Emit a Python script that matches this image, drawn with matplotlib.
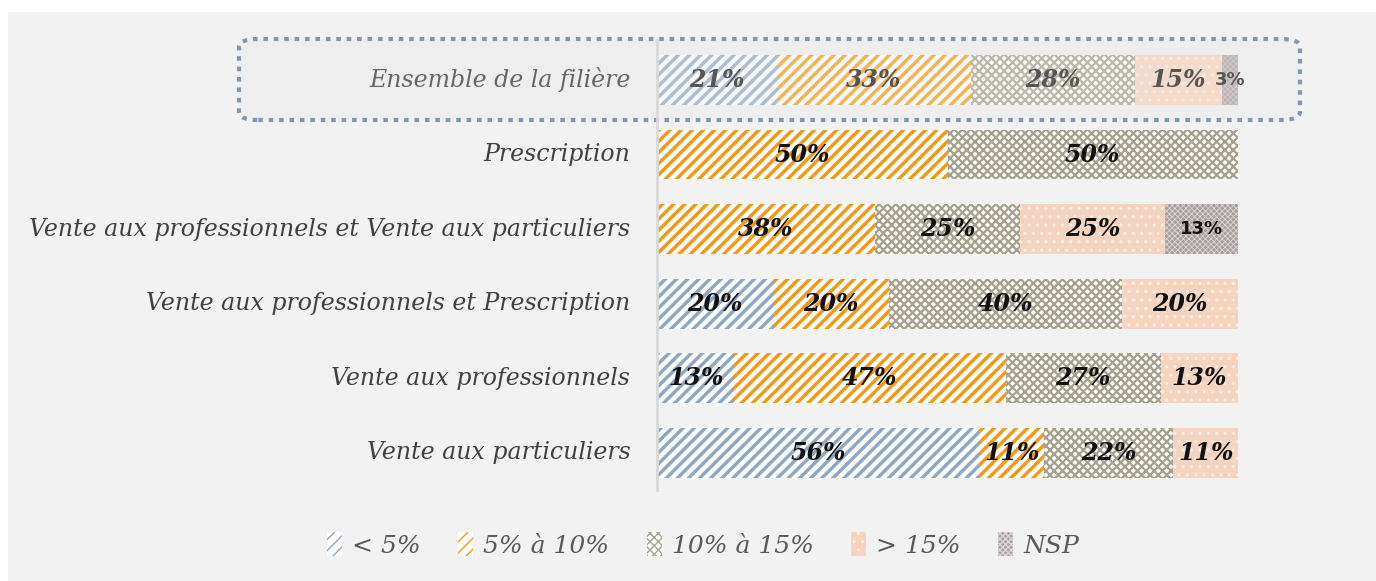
import matplotlib
matplotlib.use("Agg")
import matplotlib.pyplot as plt
from matplotlib.patches import FancyBboxPatch, Rectangle, Patch
import numpy as np

categories = [
    "Ensemble de la filière",
    "Prescription",
    "Vente aux professionnels et Vente aux particuliers",
    "Vente aux professionnels et Prescription",
    "Vente aux professionnels",
    "Vente aux particuliers",
]
series_names = ["< 5%", "5% à 10%", "10% à 15%", "> 15%", "NSP"]
lt5 = [20.6, 0, 0, 20, 13.33, 55.56]
p5_10 = [33.4, 50, 37.5, 20, 46.67, 11.11]
p10_15 = [28.2, 50, 25, 40, 26.67, 22.22]
gt15 = [15.0, 0, 25, 20, 13.33, 11.11]
nsp = [2.8, 0, 12.5, 0, 0, 0]
series = [lt5, p5_10, p10_15, gt15, nsp]

styles = [
    dict(face="#ffffff", edge="#8ea8c3", hatch="///", hlw=2.5),
    dict(face="#ffffff", edge="#f09a1a", hatch="///", hlw=2.5),
    dict(face="#ffffff", edge="#a6a18c", hatch="xxxx", hlw=1.6),
    dict(face="#f4d4bf", edge="#fbece2", hatch="..", hlw=1.2),
    dict(face="#a99e9e", edge="#dcd6d6", hatch="xxxxxx", hlw=0.6),
]

W, H = 1376, 581
fig = plt.figure(figsize=(W / 100, H / 100), dpi=100)
fig.patch.set_facecolor("white")
fig.patches.append(Rectangle((8 / W, 0), 1 - 8 / W, 1 - 12 / H, transform=fig.transFigure,
                             facecolor="#f2f2f2", edgecolor="none", zorder=-10))
# dotted highlight box
fig.patches.append(FancyBboxPatch((239 / W, (H - 120) / H), (1300 - 239) / W, (120 - 39) / H,
                                  boxstyle="round,pad=0,rounding_size=0.014",
                                  transform=fig.transFigure, facecolor="#eeeeee",
                                  edgecolor="#7f98b0", linewidth=3.0, capstyle="butt",
                                  linestyle=(0, (1.1, 1.4)), zorder=-5))

ax = fig.add_axes([657 / W, 1 - 490 / H, (1238 - 657) / W, (490 - 40) / H])
ax.set_facecolor("none")
ax.set_xlim(0, 100)
ax.set_ylim(5.5, -0.536)
for s in ["top", "right", "bottom"]:
    ax.spines[s].set_visible(False)
ax.spines["left"].set_color("#d9d9d9")
ax.spines["left"].set_linewidth(2)
ax.set_xticks([])
ax.set_yticks(range(len(categories)))
ax.set_yticklabels([])
ax.tick_params(axis="y", length=0)

ypos = np.arange(len(categories))
left = np.zeros(len(categories))
serif = "DejaVu Serif"
for si, vals in enumerate(series):
    st = styles[si]
    for i, v in enumerate(vals):
        if v <= 0:
            continue
        with plt.rc_context({"hatch.linewidth": st["hlw"]}):
            ax.barh(ypos[i], v, left=left[i], height=0.67, color=st["face"],
                    edgecolor=st["edge"], hatch=st["hatch"], linewidth=0,
                    alpha=0.72 if i == 0 else 1.0)
        col = "#555555" if i == 0 else "#111111"
        lab = f"{int(v + 0.5)}%"
        if si == 4:
            ax.text(left[i] + v / 2, ypos[i], lab, ha="center", va="center",
                    fontsize=13, fontweight="bold", color=col, family="DejaVu Sans")
        else:
            ax.text(left[i] + v / 2, ypos[i], lab, ha="center", va="center",
                    fontsize=17, fontweight="bold", style="italic", color=col, family=serif)
    left += np.array(vals)

for i, c in enumerate(categories):
    ax.text(-4.6, ypos[i], c, ha="right", va="center", fontsize=17, style="italic",
            family=serif, color="#666666" if i == 0 else "#404040")

handles = []
for st, name in zip(styles, series_names):
    with plt.rc_context({"hatch.linewidth": st["hlw"]}):
        handles.append(Patch(facecolor=st["face"], edgecolor=st["edge"], hatch=st["hatch"],
                             linewidth=0, label=name))
fig.legend(handles=handles, loc="center", bbox_to_anchor=(703 / W, 1 - 545 / H), ncol=5,
           frameon=False, handlelength=0.6, handleheight=1.1, handletextpad=0.4,
           columnspacing=1.5, prop=dict(family=serif, style="italic", size=18),
           labelcolor="#595959")

fig.savefig("out.png", dpi=100, facecolor=fig.get_facecolor())
